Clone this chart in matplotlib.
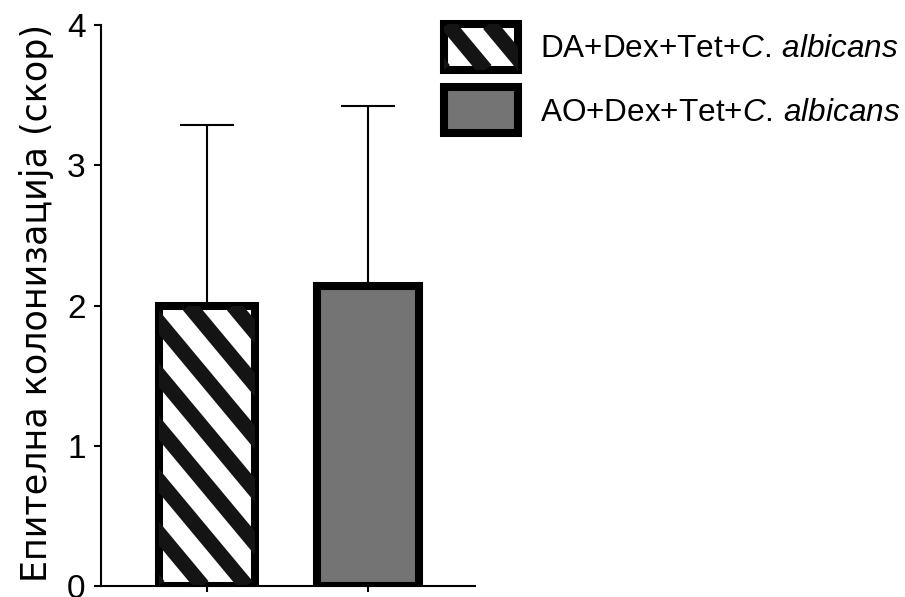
import matplotlib
matplotlib.use('Agg')
from matplotlib import pyplot as plt
from matplotlib.patches import Rectangle
from matplotlib.lines import Line2D
from matplotlib.legend_handler import HandlerBase

plt.rcParams['font.family'] = ['Liberation Sans', 'DejaVu Sans']
plt.rcParams['mathtext.fontset'] = 'custom'
plt.rcParams['mathtext.rm'] = 'Liberation Sans'
plt.rcParams['mathtext.it'] = 'Liberation Sans:italic'

# data
groups = ['DA+Dex+Tet+$\\mathit{C.\\,albicans}$', 'AO+Dex+Tet+$\\mathit{C.\\,albicans}$']
means = [2.0, 2.14]
sds = [1.29, 1.28]
yticks = [0, 1, 2, 3, 4]
ylabel = 'Епителна колонизација (скор)'

STRIPE = '#141414'
SLOPE = 1.2  # stripe steepness (pixels down per pixel right)


class StripedHandler(HandlerBase):
    def __init__(self, striped, **kw):
        super().__init__(**kw)
        self.striped = striped

    def create_artists(self, legend, orig_handle, xdescent, ydescent,
                       width, height, fontsize, trans):
        x0, y0 = -xdescent, -ydescent
        rect = Rectangle((x0, y0), width, height,
                         facecolor=orig_handle.get_facecolor(),
                         edgecolor='black', linewidth=5.8, transform=trans)
        arts = [rect]
        if self.striped:
            period = 30.0  # points
            run = height / SLOPE
            xs = x0 - run
            while xs < x0 + width:
                ln = Line2D([xs, xs + run], [y0 + height, y0],
                            color=STRIPE, linewidth=11, solid_capstyle='butt',
                            transform=trans)
                ln.set_clip_path(rect)
                arts.append(ln)
                xs += period
        return arts


fig = plt.figure(figsize=(9.05, 5.97), dpi=100)
ax = fig.add_axes([101 / 905, 11 / 597, (475 - 101) / 905, (586 - 25) / 597])

x = [0, 1]
ax.set_xlim(-0.658, 1.665)
ax.set_ylim(0, 4)

ax.errorbar(x, means, yerr=[[0, 0], sds], fmt='none', ecolor='black',
            elinewidth=1.5, capsize=19.5, capthick=1.5, zorder=1)
bars = ax.bar(x, means, width=[0.60, 0.634], color=['white', '#747474'],
              edgecolor='black', linewidth=5.8, zorder=2)

# diagonal stripes on the first bar
sx = ax.transData.transform((1, 0))[0] - ax.transData.transform((0, 0))[0]
sy = ax.transData.transform((0, 1))[1] - ax.transData.transform((0, 0))[1]
bar = bars.patches[0]
bx, bw, bh = bar.get_x(), bar.get_width(), bar.get_height()
run = bh * sy / sx / SLOPE
period = 44 / sx
xs = bx - run
while xs < bx + bw:
    ln, = ax.plot([xs, xs + run], [bh, 0], color=STRIPE, linewidth=11,
                  solid_capstyle='butt', zorder=2.5)
    ln.set_clip_path(bar)
    xs += period

for side in ['top', 'right']:
    ax.spines[side].set_visible(False)
for side in ['left', 'bottom']:
    ax.spines[side].set_linewidth(1.5)

ax.set_yticks(yticks)
ax.set_xticks(x)
ax.set_xticklabels(['', ''])
ax.tick_params(axis='y', labelsize=24, length=5, width=1.5, pad=6)
ax.tick_params(axis='x', length=4.5, width=1.5)

ax.set_ylabel(ylabel, fontsize=25.2, family='DejaVu Sans')
ax.yaxis.set_label_coords(-0.127, 0.504)

ax.legend([bars.patches[0], bars.patches[1]], groups,
          handler_map={bars.patches[0]: StripedHandler(True),
                       bars.patches[1]: StripedHandler(False)},
          loc='upper left', bbox_to_anchor=(444 / 905, 1 - 24 / 597),
          bbox_transform=fig.transFigure, frameon=False, fontsize=22.7,
          borderpad=0, borderaxespad=0, handlelength=2.35, handleheight=1.866,
          labelspacing=0.555, handletextpad=0.7)

fig.savefig('out.png', dpi=100)
